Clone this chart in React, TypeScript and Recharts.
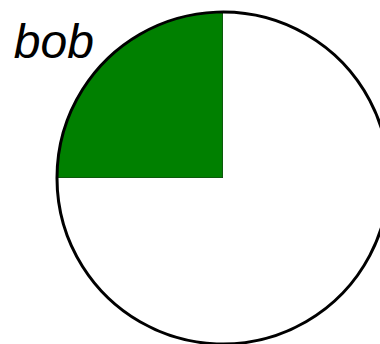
import React from 'react';
import { PieChart, Pie, Cell } from 'recharts';

const names = ['bob', ''];
const values = [25, 75];
const colors = ['#008000', '#ffffff'];

const data = names.map((name, i) => ({ name, value: values[i] }));
const ring = [{ name: 'ring', value: 1 }];

const RADIAN = Math.PI / 180;

const renderLabel = (props: any) => {
  const { cx, cy, midAngle, outerRadius, name } = props;
  if (!name) return null;
  const r = outerRadius * 1.1;
  const x = cx + r * Math.cos(-midAngle * RADIAN);
  const y = cy + r * Math.sin(-midAngle * RADIAN);
  return (
    <text
      x={x}
      y={y}
      dy={9}
      textAnchor={x < cx ? 'end' : 'start'}
      fill="#000"
      fontSize={48}
      fontStyle="italic"
      fontFamily="'Liberation Sans', Arial, sans-serif"
    >
      {name}
    </text>
  );
};

export default function App() {
  return (
    <div style={{ position: 'absolute', left: 0, top: 0, background: '#fff' }}>
      <PieChart width={380} height={344} margin={{ top: 0, right: 0, bottom: 0, left: 0 }}>
        <Pie
          data={data}
          dataKey="value"
          nameKey="name"
          cx={223}
          cy={178}
          outerRadius={166}
          startAngle={90}
          endAngle={450}
          stroke="#222"
          strokeWidth={0.8}
          label={renderLabel}
          labelLine={false}
          isAnimationActive={false}
        >
          {data.map((d, i) => (
            <Cell key={i} fill={colors[i]} stroke={d.name ? '#222' : 'none'} />
          ))}
        </Pie>
        <Pie
          data={ring}
          dataKey="value"
          cx={223}
          cy={178}
          innerRadius={166}
          outerRadius={166}
          fill="none"
          stroke="#000"
          strokeWidth={3}
          isAnimationActive={false}
        />
      </PieChart>
    </div>
  );
}
